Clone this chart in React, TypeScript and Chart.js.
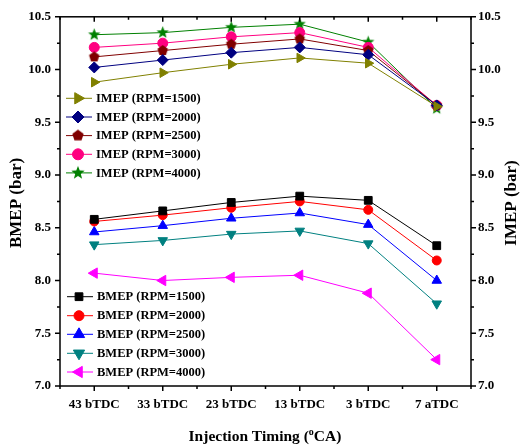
import React, { useEffect, useRef } from 'react';
import { Chart, registerables } from 'chart.js';
import { drawPoint } from 'chart.js/helpers';

Chart.register(...registerables);

const categories = ['43 bTDC', '33 bTDC', '23 bTDC', '13 bTDC', '3 bTDC', '7 aTDC'];

const imep1500 = [9.88, 9.97, 10.05, 10.11, 10.06, 9.65];
const imep2000 = [10.02, 10.09, 10.16, 10.21, 10.14, 9.66];
const imep2500 = [10.12, 10.18, 10.24, 10.29, 10.18, 9.66];
const imep3000 = [10.21, 10.25, 10.31, 10.35, 10.21, 9.66];
const imep4000 = [10.33, 10.35, 10.40, 10.43, 10.26, 9.63];

const bmep1500 = [8.58, 8.66, 8.74, 8.80, 8.76, 8.33];
const bmep2000 = [8.56, 8.62, 8.69, 8.75, 8.67, 8.19];
const bmep2500 = [8.46, 8.52, 8.59, 8.64, 8.53, 8.00];
const bmep3000 = [8.34, 8.38, 8.44, 8.47, 8.35, 7.78];
const bmep4000 = [8.07, 8.00, 8.03, 8.05, 7.88, 7.25];

const yMin = 7.0;
const yMax = 10.5;
const yStep = 0.5;

const FONT = '"Liberation Serif", "Times New Roman", serif';

function makeShape(kind: string, color: string, r: number): HTMLCanvasElement {
  const size = Math.ceil(r * 2 + 2);
  const c = document.createElement('canvas');
  c.width = size;
  c.height = size;
  const g = c.getContext('2d')!;
  g.fillStyle = color;
  g.beginPath();
  const cx = size / 2;
  const cy = size / 2;
  if (kind === 'pentagon') {
    for (let k = 0; k < 5; k++) {
      const a = -Math.PI / 2 + (k * 2 * Math.PI) / 5;
      const px = cx + r * Math.cos(a);
      const py = cy + r * Math.sin(a);
      if (k === 0) g.moveTo(px, py);
      else g.lineTo(px, py);
    }
  } else {
    for (let k = 0; k < 10; k++) {
      const a = -Math.PI / 2 + (k * Math.PI) / 5;
      const rr = k % 2 === 0 ? r : r * 0.42;
      const px = cx + rr * Math.cos(a);
      const py = cy + rr * Math.sin(a);
      if (k === 0) g.moveTo(px, py);
      else g.lineTo(px, py);
    }
  }
  g.closePath();
  g.fill();
  return c;
}

export default function App() {
  const ref = useRef<HTMLCanvasElement | null>(null);

  useEffect(() => {
    const canvas = ref.current;
    if (!canvas) return;

    const pentagon = makeShape('pentagon', '#800000', 5.5);
    const star = makeShape('star', '#008000', 6.5);
    const pentagonL = makeShape('pentagon', '#800000', 6);
    const starL = makeShape('star', '#008000', 7);

    const defs: any[] = [
      { label: 'IMEP (RPM=1500)', data: imep1500, color: '#808000', style: 'triangle', rot: 90, r: 5.5, axis: 'y2', ls: 'triangle', lr: 6.5 },
      { label: 'IMEP (RPM=2000)', data: imep2000, color: '#000080', style: 'rectRot', rot: 0, r: 5.5, axis: 'y2', ls: 'rectRot', lr: 6 },
      { label: 'IMEP (RPM=2500)', data: imep2500, color: '#800000', style: pentagon, rot: 0, r: 5.5, axis: 'y2', ls: pentagonL, lr: 6 },
      { label: 'IMEP (RPM=3000)', data: imep3000, color: '#FF0080', style: 'circle', rot: 0, r: 5, axis: 'y2', ls: 'circle', lr: 5.5 },
      { label: 'IMEP (RPM=4000)', data: imep4000, color: '#008000', style: star, rot: 0, r: 6.5, axis: 'y2', ls: starL, lr: 7 },
      { label: 'BMEP (RPM=1500)', data: bmep1500, color: '#000000', style: 'rect', rot: 0, r: 5.5, axis: 'y', ls: 'rect', lr: 5.5 },
      { label: 'BMEP (RPM=2000)', data: bmep2000, color: '#FF0000', style: 'circle', rot: 0, r: 4.5, axis: 'y', ls: 'circle', lr: 5 },
      { label: 'BMEP (RPM=2500)', data: bmep2500, color: '#0000FF', style: 'triangle', rot: 0, r: 5.5, axis: 'y', ls: 'triangle', lr: 6.5 },
      { label: 'BMEP (RPM=3000)', data: bmep3000, color: '#008080', style: 'triangle', rot: 180, r: 5.5, axis: 'y', ls: 'triangle', lr: 6.5 },
      { label: 'BMEP (RPM=4000)', data: bmep4000, color: '#FF00FF', style: 'triangle', rot: 270, r: 6, axis: 'y', ls: 'triangle', lr: 6.5 },
    ];

    const legendRowsImep = [98.3, 117, 135.6, 154.3, 172.9];
    const legendRowsBmep = [296.7, 315.7, 334.3, 353.3, 372];

    const framePlugin = {
      id: 'framePlugin',
      afterDraw(chart: any) {
        const ctx = chart.ctx as CanvasRenderingContext2D;
        const { left, right, top, bottom } = chart.chartArea;
        const xs = chart.scales.x;
        const ys = chart.scales.y;
        const ys2 = chart.scales.y2;
        ctx.save();
        ctx.strokeStyle = '#000';
        ctx.lineWidth = 1.5;
        ctx.strokeRect(left, top, right - left, bottom - top);
        ctx.beginPath();
        const n = categories.length;
        for (let i = 0; i < n; i++) {
          const px = xs.getPixelForValue(i);
          ctx.moveTo(px, bottom);
          ctx.lineTo(px, bottom + 5);
          ctx.moveTo(px, top);
          ctx.lineTo(px, top + 5);
        }
        for (let i = 0; i <= n; i++) {
          const px = xs.getPixelForValue(i - 0.5);
          ctx.moveTo(px, bottom);
          ctx.lineTo(px, bottom + 3);
          ctx.moveTo(px, top);
          ctx.lineTo(px, top + 3);
        }
        for (let v = yMin; v <= yMax + 1e-9; v += yStep / 2) {
          const major = Math.abs(Math.round(v / yStep) * yStep - v) < 1e-6;
          const len = major ? 5 : 3;
          const py = ys.getPixelForValue(v);
          ctx.moveTo(left, py);
          ctx.lineTo(left - len, py);
          const py2 = ys2.getPixelForValue(v);
          ctx.moveTo(right, py2);
          ctx.lineTo(right + len, py2);
        }
        ctx.stroke();

        // legends
        const drawLegend = (items: any[], rows: number[], x0: number, x1: number, mx: number, tx: number) => {
          items.forEach((d, i) => {
            const yy = rows[i];
            ctx.strokeStyle = d.color;
            ctx.lineWidth = 1;
            ctx.beginPath();
            ctx.moveTo(x0, yy);
            ctx.lineTo(x1, yy);
            ctx.stroke();
            ctx.fillStyle = d.color;
            ctx.strokeStyle = d.color;
            drawPoint(ctx, { pointStyle: d.ls, rotation: d.rot, radius: d.lr, borderWidth: 1 } as any, mx, yy);
            ctx.fillStyle = '#000';
            ctx.font = `bold 12.5px ${FONT}`;
            ctx.textAlign = 'left';
            ctx.textBaseline = 'middle';
            ctx.fillText(d.label, tx, yy + 0.5);
          });
        };
        drawLegend(defs.slice(0, 5), legendRowsImep, 66, 92, 78, 96);
        drawLegend(defs.slice(5), legendRowsBmep, 67, 93, 79, 97);

        // axis titles
        ctx.fillStyle = '#000';
        ctx.font = `bold 17px ${FONT}`;
        ctx.textAlign = 'center';
        ctx.textBaseline = 'middle';
        ctx.save();
        ctx.translate(17, 203);
        ctx.rotate(-Math.PI / 2);
        ctx.fillText('BMEP (bar)', 0, 0);
        ctx.restore();
        ctx.save();
        ctx.translate(512, 203);
        ctx.rotate(-Math.PI / 2);
        ctx.fillText('IMEP (bar)', 0, 0);
        ctx.restore();

        // x title with superscript
        const t1 = 'Injection Timing (';
        const sup = 'o';
        const t2 = 'CA)';
        ctx.textAlign = 'left';
        ctx.textBaseline = 'alphabetic';
        const big = `bold 15.5px ${FONT}`;
        const small = `bold 10px ${FONT}`;
        ctx.font = big;
        const w1 = ctx.measureText(t1).width;
        const w3 = ctx.measureText(t2).width;
        ctx.font = small;
        const w2 = ctx.measureText(sup).width;
        const total = w1 + w2 + w3;
        let cx = 265 - total / 2;
        const base = 441;
        ctx.font = big;
        ctx.fillText(t1, cx, base);
        cx += w1;
        ctx.font = small;
        ctx.fillText(sup, cx, base - 6);
        cx += w2;
        ctx.font = big;
        ctx.fillText(t2, cx, base);
        ctx.restore();
      },
    };

    const tickFont = { family: FONT, size: 13, weight: 'bold' as const };

    const chart = new Chart(canvas, {
      type: 'line',
      data: {
        labels: categories,
        datasets: defs.map((d) => ({
          label: d.label,
          data: d.data,
          yAxisID: d.axis,
          borderColor: d.color,
          backgroundColor: d.color,
          borderWidth: 1,
          pointStyle: d.style,
          pointRotation: d.rot,
          pointRadius: d.r,
          pointBorderWidth: 1,
          pointBackgroundColor: d.color,
          pointBorderColor: d.color,
          tension: 0,
          fill: false,
        })),
      },
      options: {
        animation: false,
        responsive: false,
        events: [],
        layout: { padding: { top: 14, left: 0, right: 0, bottom: 0 } },
        plugins: {
          legend: { display: false },
          tooltip: { enabled: false },
          title: { display: false },
        },
        scales: {
          x: {
            type: 'category',
            offset: true,
            grid: { display: false, drawTicks: false },
            border: { display: false },
            ticks: { color: '#000', font: tickFont, padding: 11, maxRotation: 0, autoSkip: false },
            afterFit: (s: any) => { s.height = 62; },
          },
          y: {
            type: 'linear',
            position: 'left',
            min: yMin,
            max: yMax,
            grid: { display: false, drawTicks: false },
            border: { display: false },
            ticks: { stepSize: yStep, color: '#000', font: tickFont, padding: 9, callback: (v: any) => Number(v).toFixed(1) },
            afterFit: (s: any) => { s.width = 60; },
          },
          y2: {
            type: 'linear',
            position: 'right',
            min: yMin,
            max: yMax,
            grid: { display: false, drawTicks: false },
            border: { display: false },
            ticks: { stepSize: yStep, color: '#000', font: tickFont, padding: 7, callback: (v: any) => Number(v).toFixed(1) },
            afterFit: (s: any) => { s.width = 50; },
          },
        },
      } as any,
      plugins: [framePlugin],
    });

    return () => {
      chart.destroy();
    };
  }, []);

  return (
    <div style={{ position: 'fixed', left: 0, top: 0, width: 521, height: 448, background: '#fff' }}>
      <canvas ref={ref} width={521} height={448} style={{ display: 'block', width: 521, height: 448 }} />
    </div>
  );
}
